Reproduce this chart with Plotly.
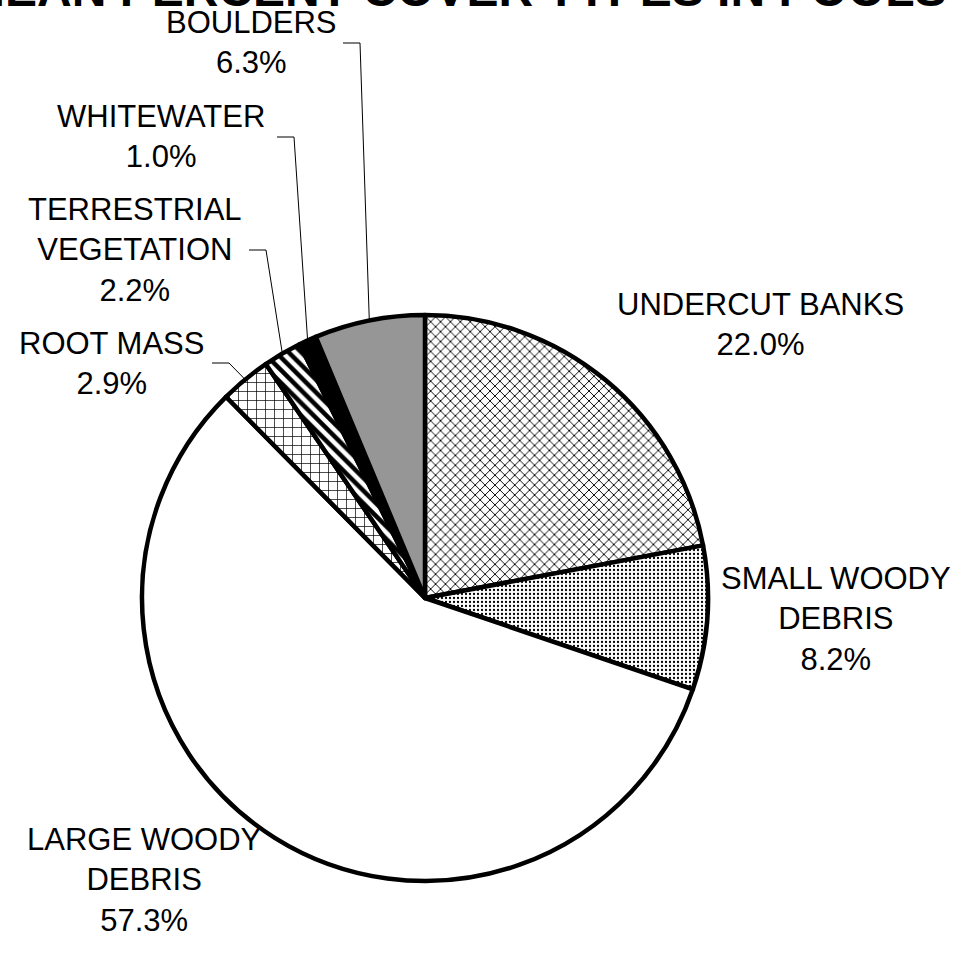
import math
import plotly.graph_objects as go

# ---- data ----
categories = ["UNDERCUT BANKS", "SMALL WOODY DEBRIS", "LARGE WOODY DEBRIS",
              "ROOT MASS", "TERRESTRIAL VEGETATION", "WHITEWATER", "BOULDERS"]
label_text = ["UNDERCUT BANKS", "SMALL WOODY<br>DEBRIS", "LARGE WOODY<br>DEBRIS",
              "ROOT MASS", "TERRESTRIAL<br>VEGETATION", "WHITEWATER", "BOULDERS"]
values = [22.0, 8.2, 57.3, 2.9, 2.2, 1.0, 6.3]
title_text = "MEAN PERCENT COVER TYPES IN POOLS"

# ---- styles ----
W, H = 963, 964
fills = ["white", "white", "white", "white", "white", "black", "#969696"]
shapes_pat = ["x", ".", "", "+", "\\", "", ""]
pat_size = [7, 4, 8, 9, 9, 8, 8]
pat_sol = [0.25, 0.25, 0.3, 0.15, 0.5, 0.3, 0.3]

cx, cy, R = 425, 598, 283  # pie centre/radius in pixels

def px(x):
    return x / W

def py(y):
    return 1 - y / H

# label block centres (pixels) and right edge for leader lines
label_pos = [(760, 324), (836, 619), (144, 880), (111, 363), (135, 250), (161, 137), (251, 43)]
label_right = [None, None, None, 207, 244, 272, 338]

fig = go.Figure(go.Pie(
    labels=categories, values=values, sort=False, direction="clockwise", rotation=0,
    textinfo="none", hoverinfo="label+percent",
    marker=dict(colors=fills, line=dict(color="black", width=4.5),
                pattern=dict(shape=shapes_pat, fgcolor="black", bgcolor=fills,
                             size=pat_size, solidity=pat_sol, fillmode="replace")),
    domain=dict(x=[px(cx - R), px(cx + R)], y=[py(cy + R), py(cy - R)]),
    showlegend=False,
))

annotations = []
shapes = []
total = sum(values)
cum = 0.0
for i, v in enumerate(values):
    mid = (cum + v / 2) / total * 2 * math.pi
    cum += v
    lx, ly = label_pos[i]
    annotations.append(dict(
        x=px(lx), y=py(ly), xref="paper", yref="paper", xanchor="center", yanchor="middle",
        text=f"{label_text[i]}<br>{v:.1f}%", showarrow=False, align="center",
        font=dict(family="Liberation Sans, Arial", size=31, color="black")))
    if label_right[i] is not None:
        ex = cx + R * math.sin(mid)
        ey = cy - R * math.cos(mid)
        x0 = label_right[i] + 5
        x1 = x0 + 17
        shapes.append(dict(
            type="path", xref="paper", yref="paper",
            path=f"M {px(x0)},{py(ly)} L {px(x1)},{py(ly)} L {px(ex)},{py(ey)}",
            line=dict(color="black", width=1)))

annotations.append(dict(
    x=px(455), y=py(18), xref="paper", yref="paper", xanchor="center", yanchor="bottom",
    text=f"<b>{title_text}</b>", showarrow=False,
    font=dict(family="Liberation Sans, Arial", size=48, color="black")))

fig.update_layout(
    width=W, height=H, margin=dict(l=0, r=0, t=0, b=0),
    paper_bgcolor="white", plot_bgcolor="white",
    annotations=annotations, shapes=shapes,
)

fig.write_html("out.html", config={"displayModeBar": False},
               post_script="document.body.style.margin='0';")
